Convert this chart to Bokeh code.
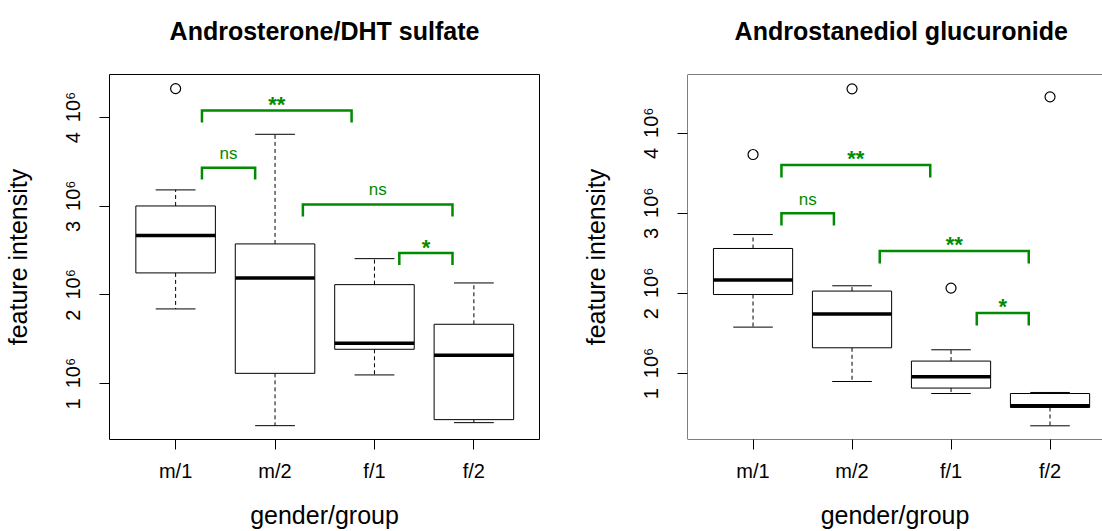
from bokeh.plotting import figure
from bokeh.layouts import row
from bokeh.models import Span, FixedTicker, Range1d, LinearAxis
from bokeh.embed import file_html
from bokeh.resources import INLINE
from bokeh.core.properties import value

# ---------------- data ----------------
groups = ["m/1", "m/2", "f/1", "f/2"]
group_pos = [1, 2, 3, 4]
y_ticks = [1e6, 2e6, 3e6, 4e6]
y_tick_labels = ["1\u200210\u2076", "2\u200210\u2076", "3\u200210\u2076", "4\u200210\u2076"]
x_label = "gender/group"
y_label = "feature intensity"

# Panel 1: Androsterone/DHT sulfate
t1 = "Androsterone/DHT sulfate"
p1_low = [1.842e6, 0.526e6, 1.098e6, 0.560e6]
p1_q1 = [2.248e6, 1.116e6, 1.387e6, 0.594e6]
p1_med = [2.669e6, 2.192e6, 1.454e6, 1.319e6]
p1_q3 = [3.003e6, 2.575e6, 2.116e6, 1.669e6]
p1_high = [3.184e6, 3.811e6, 2.409e6, 2.135e6]
p1_out_x = [1]
p1_out_y = [4.326e6]
p1_br_x0 = [1.265, 1.265, 2.28, 3.25]
p1_br_x1 = [2.77, 1.80, 3.785, 3.785]
p1_br_y = [4.078e6, 3.435e6, 3.018e6, 2.473e6]
p1_br_drop = 0.135e6
p1_br_lab = ["**", "ns", "ns", "*"]
p1_br_lab_y = [4.145e6, 3.593e6, 3.187e6, 2.533e6]

# Panel 2: Androstanediol glucuronide
t2 = "Androstanediol glucuronide"
p2_low = [1.579e6, 0.900e6, 0.750e6, 0.347e6]
p2_q1 = [1.986e6, 1.321e6, 0.818e6, 0.576e6]
p2_med = [2.166e6, 1.742e6, 0.959e6, 0.597e6]
p2_q3 = [2.561e6, 2.029e6, 1.155e6, 0.750e6]
p2_high = [2.735e6, 2.095e6, 1.296e6, 0.763e6]
p2_out_x = [1, 2, 3, 4]
p2_out_y = [3.734e6, 4.554e6, 2.066e6, 4.454e6]
p2_br_x0 = [1.287, 1.287, 2.28, 3.26]
p2_br_x1 = [2.79, 1.817, 3.785, 3.785]
p2_br_y = [3.602e6, 3.002e6, 2.528e6, 1.754e6]
p2_br_drop = 0.155e6
p2_br_lab = ["**", "ns", "**", "*"]
p2_br_lab_y = [3.689e6, 3.177e6, 2.607e6, 1.833e6]

FONT = "Liberation Sans"
GREEN = "#008B00"
BOX_W = 0.8
CAP_W = 0.4


def panel(title, low, q1, med, q3, high, ox, oy, bx0, bx1, by, bdrop, blab, blaby,
          xr, yr, width, mbl, mbr, outline=True):
    p = figure(width=width, height=531, output_backend="svg", toolbar_location=None,
               x_range=Range1d(*xr), y_range=Range1d(*yr),
               min_border_left=mbl, min_border_right=mbr,
               min_border_top=74, min_border_bottom=92)
    p.grid.visible = False
    p.background_fill_color = "white"
    p.border_fill_color = "white"
    if outline:
        p.outline_line_color = "black"
        p.outline_line_width = 1
    else:
        p.outline_line_color = None
        for loc in (yr[0], yr[1]):
            p.add_layout(Span(location=loc, dimension="width", line_color="black", line_width=1))
        p.add_layout(Span(location=xr[0], dimension="height", line_color="black", line_width=1))

    xax = p.below[0]
    yax = p.left[0]

    # title: drawn as the label of a tick-less axis above the frame
    tax = LinearAxis(ticker=FixedTicker(ticks=[]), axis_label=title,
                     axis_line_color=None, major_tick_line_color=None,
                     minor_tick_line_color=None,
                     axis_label_text_font=FONT, axis_label_text_font_size="25px",
                     axis_label_text_font_style="bold", axis_label_text_color="black",
                     axis_label_standoff=30)
    p.add_layout(tax, "above")

    # axes
    xax.ticker = FixedTicker(ticks=group_pos)
    xax.major_label_overrides = {g: lab for g, lab in zip(group_pos, groups)}
    yax.ticker = FixedTicker(ticks=y_ticks)
    yax.major_label_overrides = {t: lab for t, lab in zip(y_ticks, y_tick_labels)}
    yax.major_label_orientation = "vertical"
    for ax in (xax, yax):
        ax.axis_line_color = None
        ax.major_tick_in = 0
        ax.major_tick_out = 10
        ax.major_tick_line_color = "black"
        ax.minor_tick_line_color = None
        ax.major_label_text_font = FONT
        ax.major_label_text_font_size = "20px"
        ax.major_label_text_color = "black"
        ax.axis_label_text_font = FONT
        ax.axis_label_text_font_size = "25px"
        ax.axis_label_text_font_style = "normal"
        ax.axis_label_text_color = "black"
    xax.axis_label = x_label
    yax.axis_label = y_label
    xax.major_label_standoff = 10
    xax.axis_label_standoff = 16
    yax.major_label_standoff = 15
    yax.axis_label_standoff = 28

    # whiskers (dashed)
    p.segment(x0=group_pos, y0=q3, x1=group_pos, y1=high, line_color="black",
              line_width=1, line_dash="4 3")
    p.segment(x0=group_pos, y0=q1, x1=group_pos, y1=low, line_color="black",
              line_width=1, line_dash="4 3")
    # whisker caps
    cl = [g - CAP_W / 2 for g in group_pos]
    cr = [g + CAP_W / 2 for g in group_pos]
    p.segment(x0=cl, y0=high, x1=cr, y1=high, line_color="black", line_width=1)
    p.segment(x0=cl, y0=low, x1=cr, y1=low, line_color="black", line_width=1)
    # boxes
    p.vbar(x=group_pos, width=BOX_W, bottom=q1, top=q3, fill_color="white",
           line_color="black", line_width=1)
    # medians
    bl = [g - BOX_W / 2 for g in group_pos]
    br = [g + BOX_W / 2 for g in group_pos]
    p.segment(x0=bl, y0=med, x1=br, y1=med, line_color="black", line_width=3.5,
              line_cap="butt")
    # outliers
    p.scatter(x=ox, y=oy, size=10, marker="circle", fill_color=None,
              line_color="black", line_width=1.2)

    # significance brackets
    xs = [[a, a, b, b] for a, b in zip(bx0, bx1)]
    ys = [[y - bdrop, y, y, y - bdrop] for y in by]
    p.multi_line(xs=xs, ys=ys, line_color=GREEN, line_width=2.5, line_join="miter")
    cx = [(a + b) / 2 for a, b in zip(bx0, bx1)]
    st = [i for i, l in enumerate(blab) if l != "ns"]
    ns = [i for i, l in enumerate(blab) if l == "ns"]
    p.text(x=[cx[i] for i in st], y=[blaby[i] for i in st], text=[blab[i] for i in st],
           text_align="center", text_baseline="middle", text_color=GREEN,
           text_font=value(FONT), text_font_size="22px", text_font_style="bold")
    p.text(x=[cx[i] for i in ns], y=[blaby[i] for i in ns], text=[blab[i] for i in ns],
           text_align="center", text_baseline="middle", text_color=GREEN,
           text_font=value(FONT), text_font_size="17px")
    return p


p1 = panel(t1, p1_low, p1_q1, p1_med, p1_q3, p1_high, p1_out_x, p1_out_y,
           p1_br_x0, p1_br_x1, p1_br_y, p1_br_drop, p1_br_lab, p1_br_lab_y,
           (0.335, 4.66), (0.37e6, 4.485e6), 578, 105, 39, outline=True)
p2 = panel("\u2002" + t2, p2_low, p2_q1, p2_med, p2_q3, p2_high, p2_out_x, p2_out_y,
           p2_br_x0, p2_br_x1, p2_br_y, p2_br_drop, p2_br_lab, p2_br_lab_y,
           (0.338, 4.53), (0.176e6, 4.733e6), 524, 104, 0, outline=False)

layout = row(p1, p2)
open("out.html", "w").write(file_html(layout, INLINE))
